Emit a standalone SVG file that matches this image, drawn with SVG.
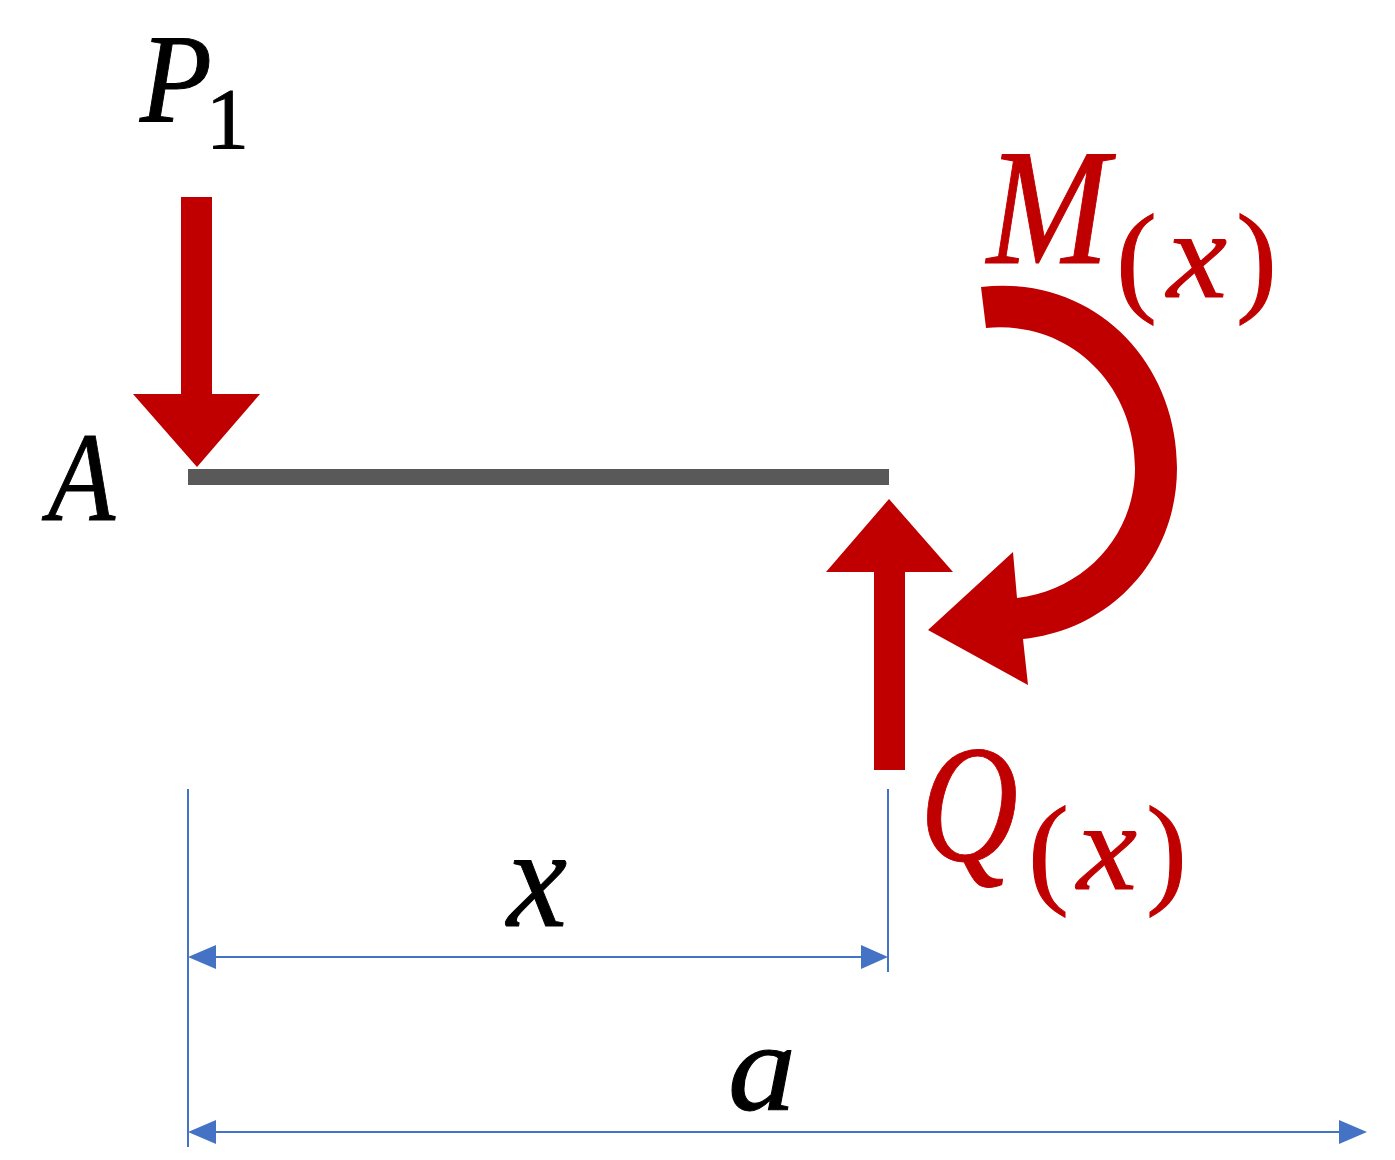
<svg xmlns="http://www.w3.org/2000/svg" width="1395" height="1160" viewBox="0 0 1395 1160">
<style>
text{font-family:"Liberation Serif","DejaVu Serif",serif;font-style:italic;stroke-width:1}
.k{fill:#000;stroke:#000}.r{fill:#c00000;stroke:none}.rt{fill:#c00000;stroke:#c00000}
.up{font-style:normal}
.d{stroke:#4472c4;stroke-width:2;fill:none}
.h{fill:#4472c4}
</style>
<rect width="1395" height="1160" fill="#fff"/>
<g id="beam"><rect x="188" y="469" width="701" height="16" fill="#595959"/></g>
<g id="connectors">
<path class="r" d="M181 197H212V394H260L197 467L133 394H181Z"/>
<path class="r" d="M874 770H905V572H953L889 499L826 572H874Z"/>
<path class="r" d="M981 287C1092 274 1177 360 1177 468C1177 560 1110 630 1023 639L1028 685L928 630L1013 552L1017 598C1085 590 1135 535 1135 468C1135 385 1070 320 986 328Z"/>
<path class="d" d="M188 789V1147M888 789V972M200 957H878M200 1132H1355"/>
<path class="h" d="M188 957L216 945V969ZM888 957L861 945V969ZM188 1132L216 1120V1144ZM1367 1132L1339 1120V1144Z"/>
</g>
<g id="label-P1"><text class="k" x="140" y="122" font-size="127" textLength="72" lengthAdjust="spacingAndGlyphs">P</text><text class="k up" x="206" y="148" font-size="86">1</text></g>
<g id="label-A"><text class="k" x="48" y="520" font-size="128" textLength="67" lengthAdjust="spacingAndGlyphs">A</text></g>
<g id="label-M"><text class="rt" x="987" y="263" font-size="165" textLength="122" lengthAdjust="spacingAndGlyphs">M</text><text class="rt up" x="1116" y="299" font-size="123">(</text><text class="rt" x="1167" y="297" font-size="125" textLength="60" lengthAdjust="spacingAndGlyphs">x</text><text class="rt up" x="1236" y="299" font-size="123">)</text></g>
<g id="label-Q"><text class="rt" x="920" y="860" font-size="168" textLength="98" lengthAdjust="spacingAndGlyphs">Q</text><text class="rt up" x="1028" y="891" font-size="123">(</text><text class="rt" x="1077" y="889" font-size="125" textLength="60" lengthAdjust="spacingAndGlyphs">x</text><text class="rt up" x="1146" y="891" font-size="123">)</text></g>
<g id="label-x"><text class="k" x="507" y="926" font-size="142" textLength="60" lengthAdjust="spacingAndGlyphs">x</text></g>
<g id="label-a"><text class="k" x="728" y="1110" font-size="126" textLength="68" lengthAdjust="spacingAndGlyphs">a</text></g>
</svg>
